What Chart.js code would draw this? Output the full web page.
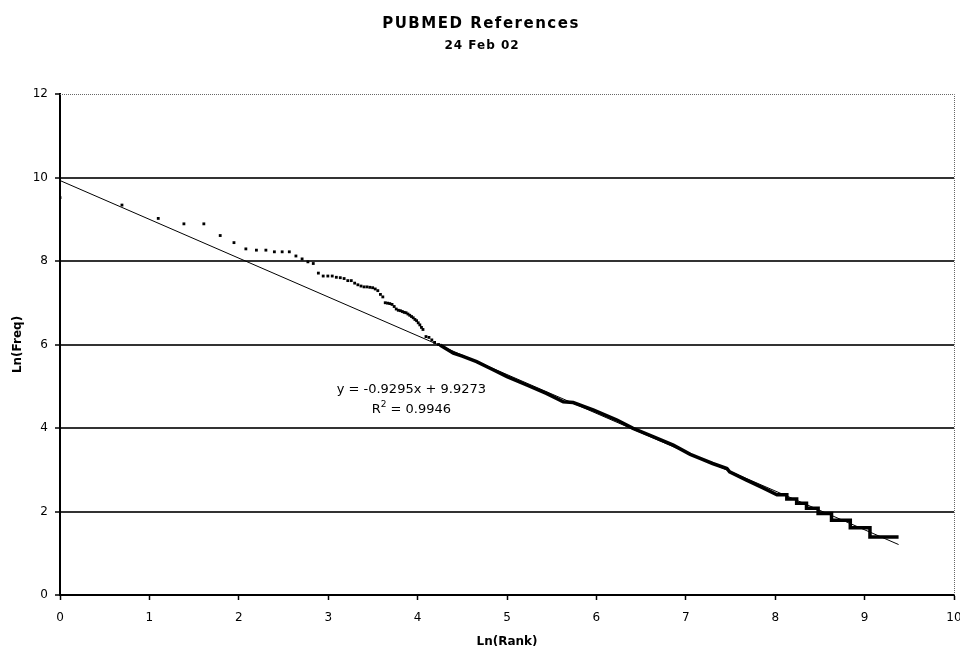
<!DOCTYPE html>
<html>
<head>
<meta charset="utf-8">
<script src="https://cdn.jsdelivr.net/npm/chart.js@4.4.1/dist/chart.umd.min.js"></script>
<style>
  html, body { margin: 0; padding: 0; background: #fff; }
  canvas { display: block; }
</style>
</head>
<body>
<canvas id="c" width="960" height="646"></canvas>
<script>
// ---- Data ----
const titleText = "PUBMED References";
const subtitleText = "24 Feb 02";
const xAxisTitle = "Ln(Rank)";
const yAxisTitle = "Ln(Freq)";
const xTicks = [0, 1, 2, 3, 4, 5, 6, 7, 8, 9, 10];
const yTicks = [0, 2, 4, 6, 8, 10, 12];

// sparse individual points (top-ranked terms)
const pointsX = [0, 0.693, 1.099, 1.386, 1.609, 1.792, 1.946, 2.079, 2.197, 2.303, 2.398, 2.485, 2.565, 2.639, 2.708, 2.773, 2.833, 2.890, 2.944, 2.996, 3.045, 3.091, 3.135, 3.178, 3.219, 3.258, 3.296, 3.332, 3.367, 3.401, 3.434, 3.466, 3.497, 3.526, 3.555, 3.584, 3.611, 3.638, 3.664, 3.689, 3.714, 3.738, 3.761, 3.784, 3.807, 3.829, 3.850, 3.871, 3.892, 3.912, 3.932, 3.951, 3.970, 3.989, 4.007, 4.025, 4.043, 4.060, 4.094, 4.127, 4.159, 4.190, 4.234];
const pointsY = [9.52, 9.34, 9.02, 8.89, 8.89, 8.61, 8.44, 8.29, 8.26, 8.26, 8.22, 8.22, 8.22, 8.12, 8.05, 7.98, 7.94, 7.71, 7.64, 7.64, 7.64, 7.61, 7.60, 7.58, 7.53, 7.53, 7.47, 7.43, 7.40, 7.38, 7.38, 7.37, 7.36, 7.33, 7.29, 7.20, 7.14, 7.00, 6.99, 6.98, 6.96, 6.91, 6.85, 6.82, 6.81, 6.79, 6.77, 6.76, 6.73, 6.70, 6.67, 6.64, 6.60, 6.57, 6.52, 6.47, 6.41, 6.36, 6.19, 6.17, 6.11, 6.05, 6.00];

// dense tail of the distribution (points merge into a thick line, with steps at the end)
const denseX = [4.25, 4.31, 4.40, 4.50, 4.66, 4.85, 5.00, 5.22, 5.44, 5.63, 5.74, 5.97, 6.23, 6.41, 6.64, 6.86, 7.05, 7.16, 7.30, 7.46, 7.49, 7.68, 7.87, 8.02, 8.13, 8.13, 8.24, 8.24, 8.35, 8.35, 8.48, 8.48, 8.63, 8.63, 8.84, 8.84, 9.06, 9.06, 9.38];
const denseY = [5.99, 5.91, 5.79, 5.72, 5.59, 5.39, 5.23, 5.03, 4.83, 4.63, 4.61, 4.43, 4.19, 3.99, 3.79, 3.59, 3.37, 3.27, 3.15, 3.03, 2.95, 2.75, 2.56, 2.40, 2.40, 2.30, 2.30, 2.20, 2.20, 2.08, 2.08, 1.95, 1.95, 1.79, 1.79, 1.61, 1.61, 1.39, 1.39];

// linear trendline y = -0.9295x + 9.9273
const trendX = [0, 9.38];
const trendY = [9.9273, 1.2086];
const eqLine1 = "y = -0.9295x + 9.9273";
const eqLine2a = "R";
const eqLine2sup = "2";
const eqLine2b = " = 0.9946";

// ---- build ----
const toXY = (xs, ys) => xs.map((x, i) => ({ x: x, y: ys[i] }));

const decorPlugin = {
  id: 'decor',
  beforeDraw(chart) {
    const ctx = chart.ctx;
    ctx.save();
    ctx.fillStyle = '#fff';
    ctx.fillRect(0, 0, chart.width, chart.height);
    ctx.restore();
  },
  beforeDatasetsDraw(chart) {
    const ctx = chart.ctx;
    const a = chart.chartArea;
    ctx.save();
    ctx.strokeStyle = '#666';
    ctx.lineWidth = 1;
    ctx.setLineDash([1, 1]);
    ctx.beginPath();
    ctx.moveTo(a.left, a.top + 0.5);
    ctx.lineTo(a.right + 0.5, a.top + 0.5);
    ctx.lineTo(a.right + 0.5, a.bottom);
    ctx.stroke();
    ctx.restore();
  },
  afterDraw(chart) {
    const ctx = chart.ctx;
    const xs = chart.scales.x, ys = chart.scales.y;
    ctx.save();
    ctx.fillStyle = '#000';
    ctx.textAlign = 'center';
    ctx.textBaseline = 'middle';
    // titles
    ctx.font = 'bold 15px "DejaVu Sans"';
    ctx.letterSpacing = '1.5px';
    ctx.fillText(titleText, 481, 24);
    ctx.font = 'bold 12px "DejaVu Sans"';
    ctx.letterSpacing = '1px';
    ctx.fillText(subtitleText, 482, 46);
    ctx.letterSpacing = '0px';
    // equation
    const cx = xs.getPixelForValue(3.93);
    ctx.font = '13px "DejaVu Sans"';
    ctx.fillText(eqLine1, cx, ys.getPixelForValue(4.91));
    const y2 = ys.getPixelForValue(4.43);
    ctx.textAlign = 'left';
    const wR = ctx.measureText(eqLine2a).width;
    const wB = ctx.measureText(eqLine2b).width;
    ctx.font = '9px "DejaVu Sans"';
    const wS = ctx.measureText(eqLine2sup).width;
    const start = cx - (wR + wS + wB) / 2;
    ctx.font = '13px "DejaVu Sans"';
    ctx.fillText(eqLine2a, start, y2);
    ctx.font = '9px "DejaVu Sans"';
    ctx.fillText(eqLine2sup, start + wR, y2 - 5);
    ctx.font = '13px "DejaVu Sans"';
    ctx.fillText(eqLine2b, start + wR + wS, y2);
    ctx.restore();
  }
};

new Chart(document.getElementById('c'), {
  type: 'scatter',
  data: {
    datasets: [
      {
        label: 'trend',
        data: toXY(trendX, trendY),
        showLine: true,
        borderColor: '#000',
        borderWidth: 1,
        pointRadius: 0,
        fill: false
      },
      {
        label: 'dense',
        data: toXY(denseX, denseY),
        showLine: true,
        borderColor: '#000',
        borderWidth: 3.5,
        pointRadius: 0,
        fill: false,
        borderJoinStyle: 'miter'
      },
      {
        label: 'points',
        data: toXY(pointsX, pointsY),
        showLine: false,
        pointStyle: 'rect',
        pointRadius: 2,
        pointBorderWidth: 0,
        backgroundColor: '#000',
        borderColor: '#000'
      }
    ]
  },
  options: {
    responsive: false,
    animation: false,
    events: [],
    layout: { padding: { top: 94, right: 6, left: 0, bottom: 0 } },
    plugins: {
      legend: { display: false },
      title: { display: false },
      tooltip: { enabled: false }
    },
    scales: {
      x: {
        type: 'linear',
        position: 'bottom',
        min: 0, max: 10,
        afterBuildTicks: s => { s.ticks = xTicks.map(v => ({ value: v })); },
        ticks: { color: '#000', font: { family: 'DejaVu Sans', size: 12 }, padding: 11, maxRotation: 0 },
        grid: { drawOnChartArea: false, drawTicks: true, tickLength: 5, tickColor: '#000', tickWidth: 1.5 },
        border: { color: '#000', width: 2 },
        title: { display: true, text: xAxisTitle, color: '#000', font: { family: 'DejaVu Sans', size: 12, weight: 'bold' }, padding: { top: 0, bottom: -3 } },
        afterFit: s => { s.height = 51; s.paddingLeft = 0; s.paddingRight = 0; }
      },
      y: {
        type: 'linear',
        min: 0, max: 12,
        afterBuildTicks: s => { s.ticks = yTicks.map(v => ({ value: v })); },
        ticks: { color: '#000', font: { family: 'DejaVu Sans', size: 12 }, padding: 7 },
        grid: {
          drawOnChartArea: true,
          color: c => (c.tick && (c.tick.value === 0 || c.tick.value === 12)) ? 'rgba(0,0,0,0)' : '#333',
          lineWidth: 2,
          tickLength: 5,
          tickColor: '#000',
          tickWidth: 1.5
        },
        border: { color: '#000', width: 2 },
        title: { display: true, text: yAxisTitle, color: '#000', font: { family: 'DejaVu Sans', size: 12, weight: 'bold' }, padding: { top: 11, bottom: 0 } },
        afterFit: s => { s.width = 60; s.paddingTop = 0; s.paddingBottom = 0; }
      }
    }
  },
  plugins: [decorPlugin]
});
</script>
</body>
</html>
